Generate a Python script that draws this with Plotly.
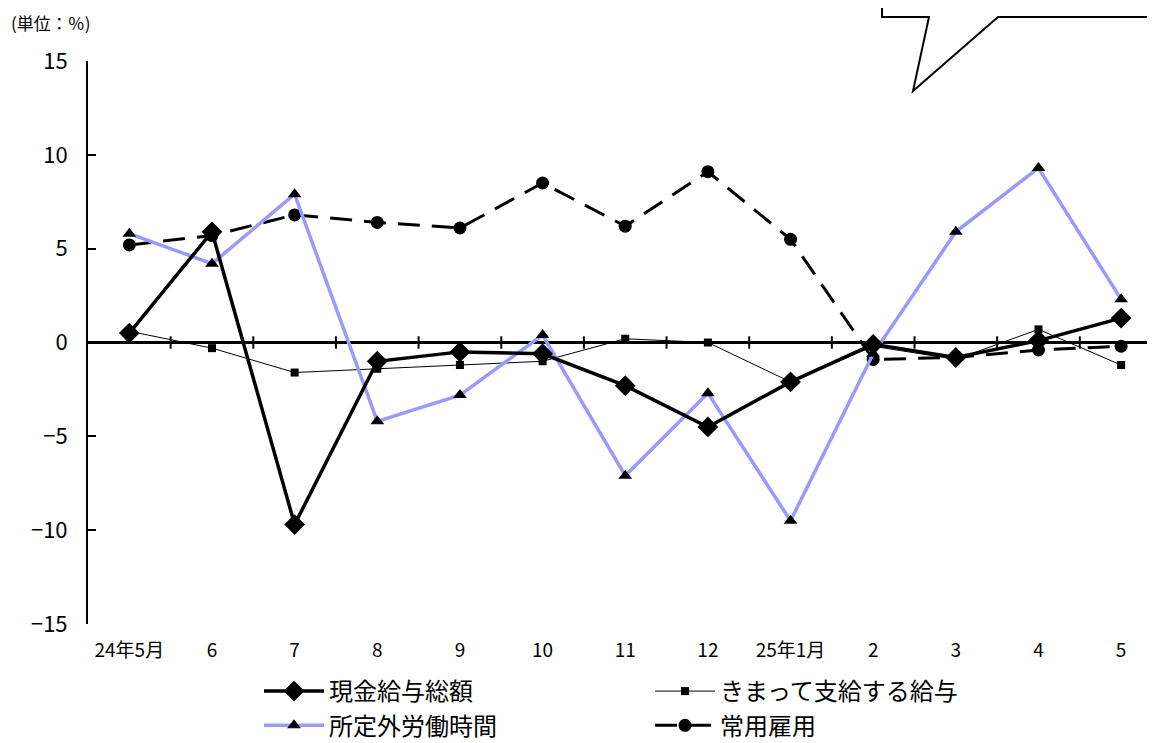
import plotly.graph_objects as go

categories = ["24年5月", "6", "7", "8", "9", "10", "11", "12", "25年1月", "2", "3", "4", "5"]
genkin = [0.5, 5.9, -9.7, -1.0, -0.5, -0.6, -2.3, -4.5, -2.1, -0.1, -0.8, 0.1, 1.3]
kimatte = [0.6, -0.3, -1.6, -1.4, -1.2, -1.0, 0.2, 0.0, -2.1, -0.2, -0.9, 0.7, -1.2]
shoteigai = [5.8, 4.2, 7.9, -4.2, -2.8, 0.4, -7.1, -2.7, -9.5, -0.6, 5.9, 9.3, 2.3]
joyo = [5.2, 5.7, 6.8, 6.4, 6.1, 8.5, 6.2, 9.1, 5.5, -0.9, -0.8, -0.4, -0.2]
y_ticks = [-15, -10, -5, 0, 5, 10, 15]

FONT = "Noto Sans CJK JP"
OFF = 8  # page offset of the figure div
W, H = 1155 - OFF, 743 - OFF
L, R, T = 80, 0, 53
PLOT_TOP, PLOT_BOTTOM = 61, 624  # page pixels
pw = W - L - R
ph = PLOT_BOTTOM - PLOT_TOP
B = H - T - ph

def px(x):
    return (x - OFF - L) / pw

def py(y):
    return (PLOT_BOTTOM - y) / ph

fig = go.Figure()
fig.add_trace(go.Scatter(x=categories, y=kimatte, name="きまって支給する給与", mode="lines+markers",
                         line=dict(color="black", width=1),
                         marker=dict(symbol="square", size=8, color="black")))
fig.add_trace(go.Scatter(x=categories, y=joyo, name="常用雇用", mode="lines+markers",
                         line=dict(color="black", width=3, dash="22px,12px"),
                         marker=dict(symbol="circle", size=13, color="black")))
fig.add_trace(go.Scatter(x=categories, y=shoteigai, name="所定外労働時間", mode="lines+markers",
                         line=dict(color="#9999FF", width=3.5),
                         marker=dict(symbol="triangle-up", size=12, color="black")))
fig.add_trace(go.Scatter(x=categories, y=genkin, name="現金給与総額", mode="lines+markers",
                         line=dict(color="black", width=3.5),
                         marker=dict(symbol="diamond", size=16, color="black")))

# legend order: 現金, きまって / 所定外, 常用
order = {"現金給与総額": 1, "きまって支給する給与": 2, "所定外労働時間": 3, "常用雇用": 4}
for tr in fig.data:
    tr.legendrank = order[tr.name]

# category boundary ticks on the zero line
n = len(categories)
for i in range(n - 1):
    fig.add_shape(type="line", xref="x", yref="y", x0=i + 0.5, x1=i + 0.5, y0=-0.33, y1=0.33,
                  line=dict(color="black", width=2))

# callout bubble fragment at top right
path = "M {} {} L {} {} L {} {} L {} {} L {} {} L {} {}".format(
    px(882), py(-5), px(882), py(17), px(929), py(17), px(913), py(91),
    px(998), py(17), px(1160), py(17))
fig.add_shape(type="path", xref="paper", yref="paper", path=path,
              line=dict(color="black", width=2), layer="above")

fig.add_annotation(xref="paper", yref="paper", x=px(9), y=py(22), xanchor="left", yanchor="middle",
                   text="(単位：％)", showarrow=False, font=dict(size=17, color="black", family=FONT))

fig.update_layout(
    width=W, height=H,
    margin=dict(l=L, r=R, t=T, b=B, autoexpand=False),
    paper_bgcolor="white", plot_bgcolor="white",
    font=dict(family=FONT, color="black"),
    showlegend=True,
    legend=dict(orientation="h", x=px(259), xanchor="left", y=py(669), yanchor="top",
                font=dict(size=24, family=FONT, color="black"),
                entrywidth=316, entrywidthmode="pixels", itemwidth=60,
                tracegroupgap=0, maxheight=200,
                bgcolor="rgba(0,0,0,0)", traceorder="normal"),
    xaxis=dict(type="category", categoryorder="array", categoryarray=categories,
               range=[-0.5, -0.5 + pw / 82.65], showgrid=False, showline=False, zeroline=False,
               automargin=False,
               ticks="", ticklabelstandoff=13, tickfont=dict(size=19, family=FONT)),
    yaxis=dict(range=[-15, 15], tickvals=y_ticks, showgrid=False, showline=True, linecolor="black",
               linewidth=2, ticks="inside", ticklen=8, tickwidth=2, tickcolor="black",
               zeroline=True, zerolinecolor="black", zerolinewidth=2.5, automargin=False,
               ticklabelstandoff=14, tickfont=dict(size=22, family=FONT)),
)

fig.write_html("out.html")
